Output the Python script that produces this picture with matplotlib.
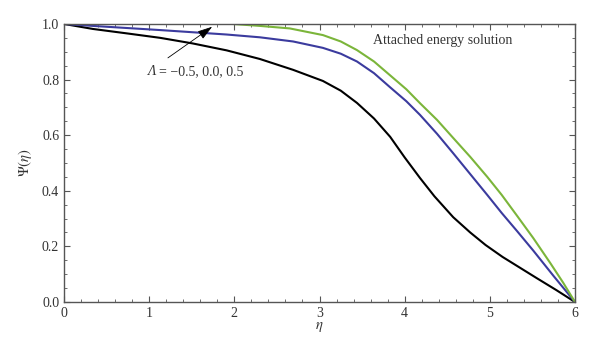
import matplotlib
matplotlib.use("Agg")
import matplotlib.pyplot as plt
from matplotlib.ticker import MultipleLocator, FormatStrFormatter

plt.rcParams['font.family'] = ['Liberation Serif', 'DejaVu Serif']
plt.rcParams['mathtext.fontset'] = 'stix'

# values
eta_black = [0.0, 0.34, 0.74, 1.13, 1.51, 1.91, 2.30, 2.69, 3.04, 3.25, 3.44, 3.64, 3.83,
             4.0, 4.18, 4.35, 4.57, 4.77, 4.95, 5.15, 5.35, 5.55, 5.78, 6.0]
psi_black = [1.0, 0.982, 0.966, 0.95, 0.93, 0.905, 0.874, 0.835, 0.795, 0.76, 0.716, 0.66, 0.594,
             0.52, 0.446, 0.38, 0.305, 0.25, 0.205, 0.162, 0.124, 0.086, 0.043, 0.0]

eta_blue = [0.0, 0.34, 1.13, 1.91, 2.30, 2.69, 3.04, 3.25, 3.44, 3.64, 3.83, 4.02, 4.18,
            4.38, 4.57, 4.77, 4.97, 5.14, 5.32, 5.51, 5.75, 6.0]
psi_blue = [1.0, 0.993, 0.978, 0.962, 0.952, 0.937, 0.914, 0.893, 0.865, 0.823, 0.772, 0.722, 0.673,
            0.605, 0.535, 0.46, 0.385, 0.32, 0.255, 0.185, 0.093, 0.0]

eta_green = [0.0, 1.0, 1.98, 2.30, 2.65, 3.04, 3.25, 3.44, 3.64, 3.83, 4.02, 4.18, 4.38,
             4.57, 4.77, 4.97, 5.14, 5.32, 5.51, 5.71, 5.86, 6.0]
psi_green = [1.0, 1.0, 1.0, 0.993, 0.984, 0.96, 0.937, 0.906, 0.865, 0.815, 0.765, 0.715, 0.655,
             0.59, 0.522, 0.45, 0.385, 0.31, 0.23, 0.14, 0.07, 0.0]

fig = plt.figure(figsize=(6, 3.56), dpi=100)
ax = fig.add_axes([0.1067, 0.1517, 0.8516, 0.781])

ax.plot(eta_black, psi_black, color='black', lw=1.5)
ax.plot(eta_blue, psi_blue, color='#3b3b9e', lw=1.5)
ax.plot(eta_green, psi_green, color='#7bb53a', lw=1.5)

ax.set_xlim(0, 6)
ax.set_ylim(0, 1.0)
ax.xaxis.set_major_locator(MultipleLocator(1))
ax.xaxis.set_minor_locator(MultipleLocator(0.2))
ax.yaxis.set_major_locator(MultipleLocator(0.2))
ax.yaxis.set_minor_locator(MultipleLocator(0.05))
ax.yaxis.set_major_formatter(FormatStrFormatter('%.1f'))

for s in ax.spines.values():
    s.set_color('#555555')
    s.set_linewidth(1.0)
ax.tick_params(which='both', direction='in', top=True, right=True, colors='#555555',
               labelcolor='#333333', labelsize=10)
ax.tick_params(which='major', length=4)
ax.tick_params(which='minor', length=2)

ax.set_xlabel(r'$\eta$', fontsize=10.5, color='#333333', labelpad=0)
ax.set_ylabel(r'$\Psi(\eta)$', fontsize=10.5, color='#333333', labelpad=6)

ax.annotate('', xy=(1.74, 0.99), xytext=(1.22, 0.878),
            arrowprops=dict(arrowstyle='-|>,head_length=0.9,head_width=0.28', color='black',
                            lw=0.6, shrinkA=0, shrinkB=0))
ax.text(0.975, 0.83, 'Λ', fontsize=10, style='italic', ha='left', va='center', color='#333333')
ax.text(1.11, 0.83, '= −0.5, 0.0, 0.5', fontsize=10, ha='left', va='center', color='#333333')
ax.text(4.45, 0.942, 'Attached energy solution', fontsize=10, ha='center', va='center',
        color='#333333')

fig.savefig('out.png', dpi=100)
